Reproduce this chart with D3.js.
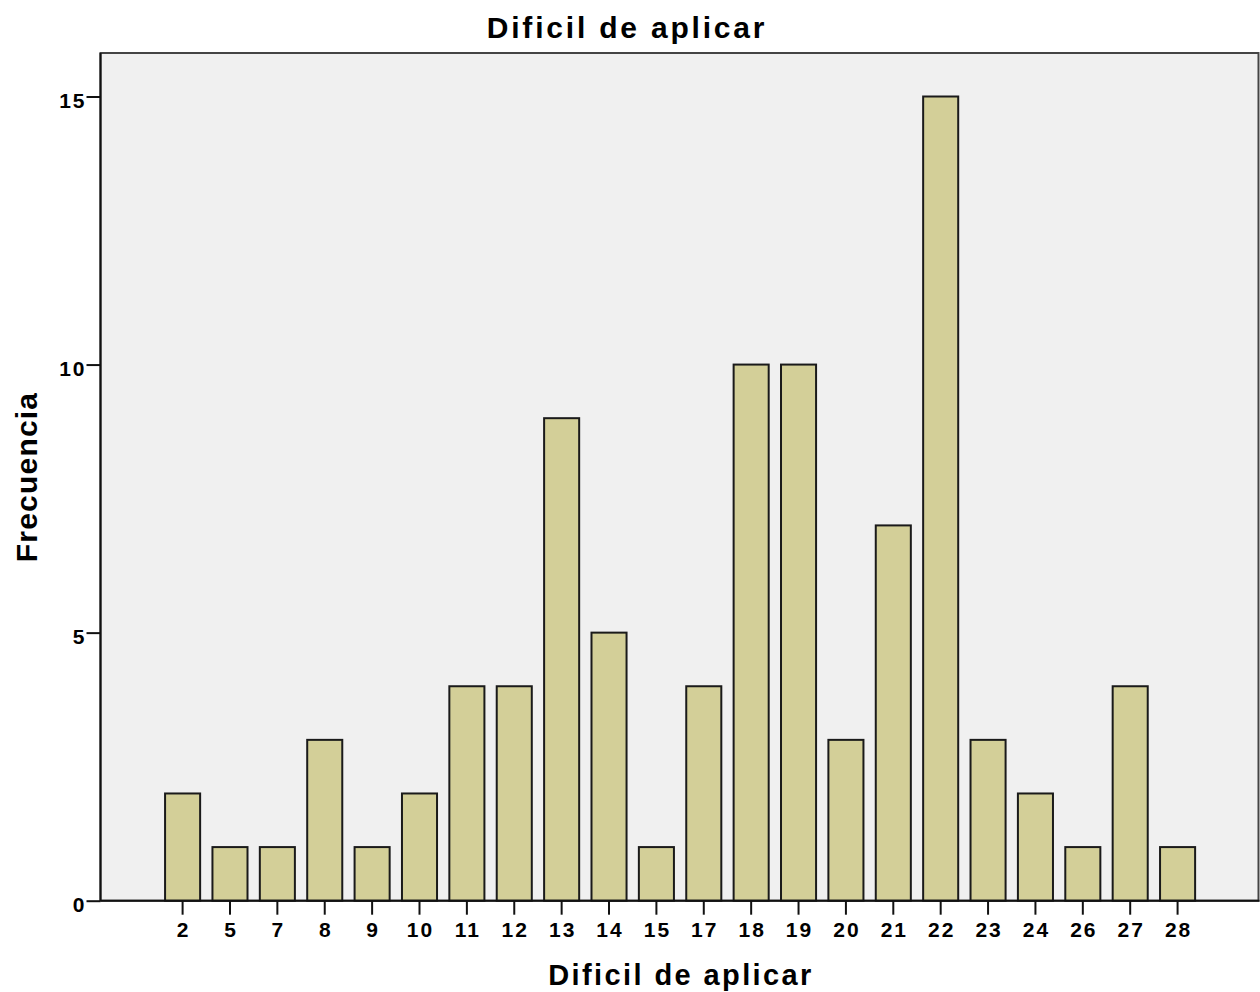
<!DOCTYPE html>
<html>
<head>
<meta charset="utf-8">
<script src="https://cdn.jsdelivr.net/npm/d3@7"></script>
<style>
  body { margin: 0; background: #fff; }
  text { font-family: "Liberation Sans", Arial, sans-serif; font-weight: bold; fill: #000; }
</style>
</head>
<body>
<div id="chart"></div>
<script>
// datos
const categorias = ["2", "5", "7", "8", "9", "10", "11", "12", "13", "14", "15",
                    "17", "18", "19", "20", "21", "22", "23", "24", "26", "27", "28"];
const frecuencias = [2, 1, 1, 3, 1, 2, 4, 4, 9, 5, 1, 4, 10, 10, 3, 7, 15, 3, 2, 1, 4, 1];
const ticksY = [0, 5, 10, 15];

const width = 1260, height = 992;
const plot = { left: 100.5, right: 1258.5, top: 53, bottom: 900.7 };

const svg = d3.select("#chart")
  .append("svg")
    .attr("width", width)
    .attr("height", height);

// fondo del area de trazado
svg.append("rect")
    .attr("x", plot.left)
    .attr("y", plot.top)
    .attr("width", plot.right - plot.left)
    .attr("height", plot.bottom - plot.top)
    .style("fill", "#f0f0f0")
    .style("stroke", "#444")
    .style("stroke-width", 2);

// escalas
const step = 47.38;
const x = d3.scaleBand()
    .domain(categorias)
    .range([182.6 - step / 2, 182.6 + step * (categorias.length - 0.5)])
    .paddingInner(0.26)
    .paddingOuter(0.13);

const y = d3.scaleLinear()
    .domain([0, 15])
    .range([plot.bottom, 96.5]);

// barras
svg.append("g")
  .selectAll("rect")
  .data(frecuencias)
  .join("rect")
    .attr("x", (d, i) => x(categorias[i]))
    .attr("y", d => y(d))
    .attr("width", x.bandwidth())
    .attr("height", d => y(0) - y(d))
    .style("fill", "#d3cf98")
    .style("stroke", "#1a1a1a")
    .style("stroke-width", 2);

// eje Y
const ejeY = svg.append("g")
    .attr("transform", `translate(${plot.left},0)`)
    .call(d3.axisLeft(y).tickValues(ticksY).tickSize(14).tickSizeOuter(0));
ejeY.select(".domain").remove();
ejeY.selectAll(".tick line").style("stroke", "#111").style("stroke-width", 2);
ejeY.selectAll(".tick text")
    .attr("x", -14)
    .attr("dy", "0.5em")
    .style("font-size", "21px")
    .style("letter-spacing", "2px")
    .style("font-family", "'Liberation Sans', Arial, sans-serif")
    .style("font-weight", "bold");

svg.append("line")
    .attr("x1", plot.left).attr("x2", plot.left)
    .attr("y1", plot.top).attr("y2", plot.bottom)
    .style("stroke", "#111").style("stroke-width", 2);

// eje X
const ejeX = svg.append("g")
    .attr("transform", `translate(0,${plot.bottom})`)
    .call(d3.axisBottom(x).tickSize(14).tickSizeOuter(0));
ejeX.select(".domain").remove();
ejeX.selectAll(".tick line").style("stroke", "#111").style("stroke-width", 2);
ejeX.selectAll(".tick text")
    .attr("y", 36)
    .attr("dy", 0)
    .attr("dx", 1)
    .style("font-size", "21px")
    .style("letter-spacing", "2px")
    .style("font-family", "'Liberation Sans', Arial, sans-serif")
    .style("font-weight", "bold");

svg.append("line")
    .attr("x1", plot.left).attr("x2", plot.right + 1)
    .attr("y1", plot.bottom).attr("y2", plot.bottom)
    .style("stroke", "#111").style("stroke-width", 2);

// titulos
svg.append("text")
    .attr("x", 627)
    .attr("y", 38)
    .attr("text-anchor", "middle")
    .style("font-size", "30px")
    .style("letter-spacing", "2.8px")
    .text("Dificil de aplicar");

svg.append("text")
    .attr("x", 681)
    .attr("y", 985)
    .attr("text-anchor", "middle")
    .style("font-size", "29px")
    .style("letter-spacing", "2.4px")
    .text("Dificil de aplicar");

svg.append("text")
    .attr("transform", "translate(37,477) rotate(-90)")
    .attr("text-anchor", "middle")
    .style("font-size", "30px")
    .style("letter-spacing", "1.2px")
    .text("Frecuencia");
</script>
</body>
</html>
